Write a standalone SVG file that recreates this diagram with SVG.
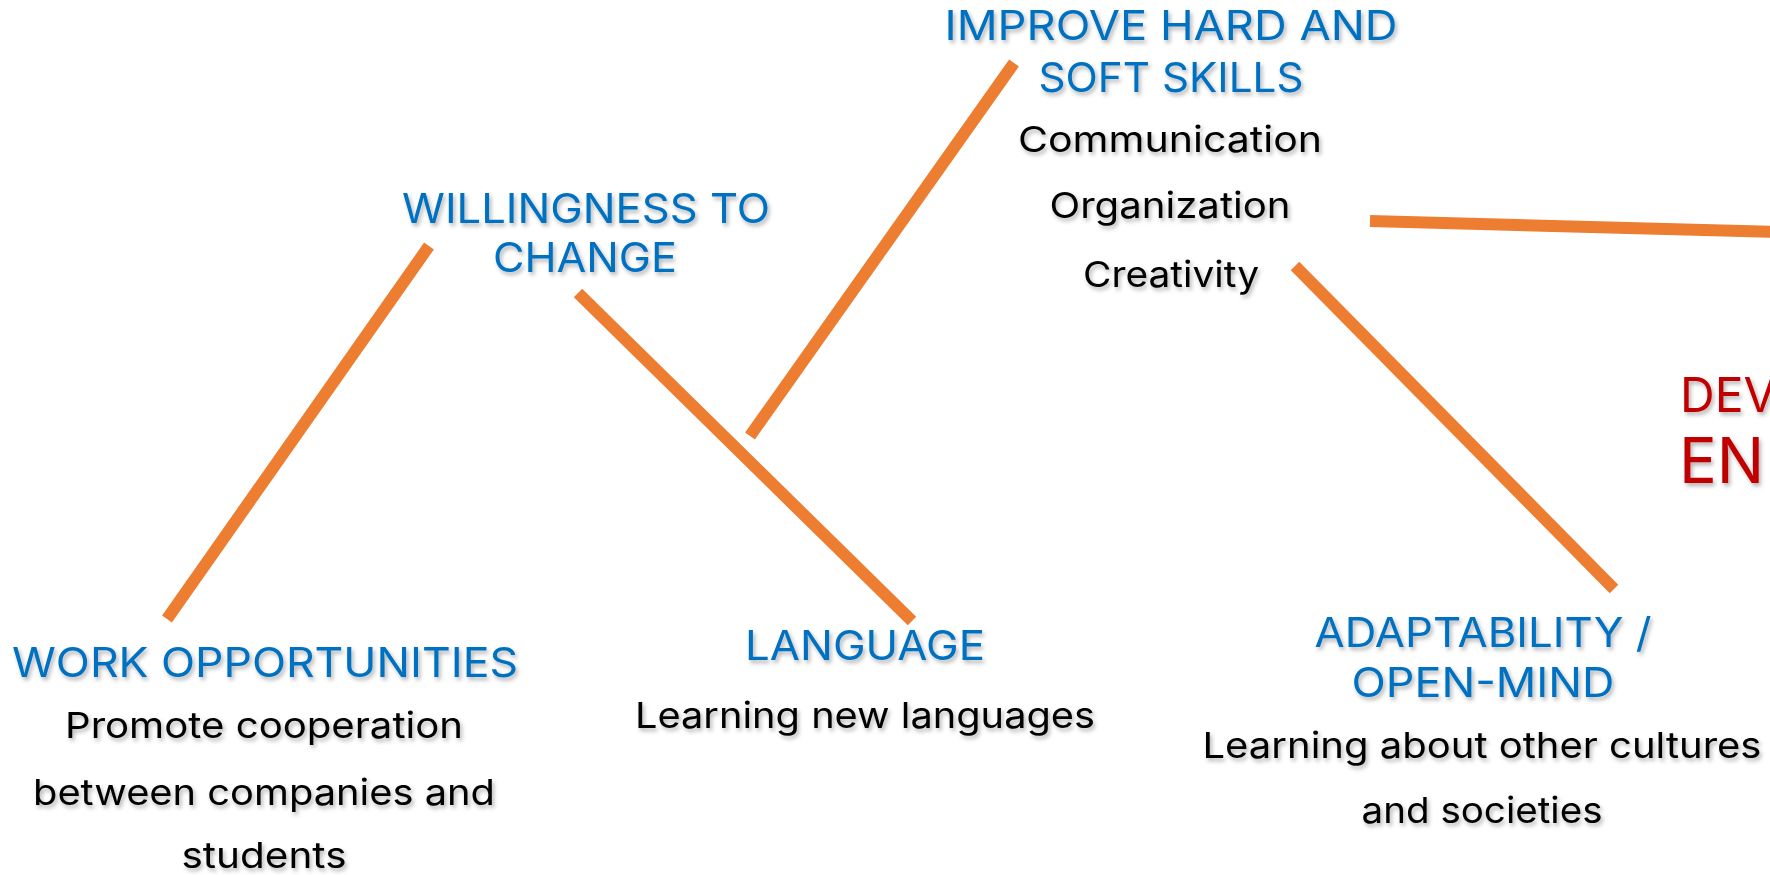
<svg xmlns="http://www.w3.org/2000/svg" width="1770" height="875" viewBox="0 0 1770 875">
<defs>
<filter id="sh" x="-10%" y="-30%" width="120%" height="160%">
<feDropShadow dx="2" dy="3" stdDeviation="2" flood-color="#000" flood-opacity="0.3"/>
</filter>
<style>
text{font-family:Inter,"Open Sans","Liberation Sans",sans-serif;text-anchor:middle;filter:url(#sh)}
.t{fill:#0070C0;font-size:41px}
.b{fill:#000;font-size:36px}
.r{fill:#C00000;text-anchor:start}
.c line{stroke:#ED7D31;stroke-width:12;stroke-linecap:butt}
</style>
</defs>
<rect width="1770" height="875" fill="#fff"/>
<g class="c" id="connectors">
<line x1="429" y1="246" x2="167" y2="619"/>
<line x1="578" y1="293" x2="912" y2="621"/>
<line x1="1014" y1="63" x2="750" y2="436"/>
<line x1="1370" y1="221" x2="1775" y2="232"/>
<line x1="1295" y1="266" x2="1614" y2="589"/>
</g>
<g id="improve">
<text class="t" x="1171" y="40" textLength="453" lengthAdjust="spacingAndGlyphs">IMPROVE HARD AND</text>
<text class="t" x="1171" y="92" textLength="265" lengthAdjust="spacingAndGlyphs">SOFT SKILLS</text>
<text class="b" x="1170" y="152" textLength="304" lengthAdjust="spacingAndGlyphs">Communication</text>
<text class="b" x="1170" y="218" textLength="241" lengthAdjust="spacingAndGlyphs">Organization</text>
<text class="b" x="1171" y="287" textLength="176" lengthAdjust="spacingAndGlyphs">Creativity</text>
</g>
<g id="willingness">
<text class="t" x="586" y="223" textLength="368" lengthAdjust="spacingAndGlyphs">WILLINGNESS TO</text>
<text class="t" x="585" y="272" textLength="184" lengthAdjust="spacingAndGlyphs">CHANGE</text>
</g>
<g id="work">
<text class="t" x="265" y="677" textLength="506" lengthAdjust="spacingAndGlyphs">WORK OPPORTUNITIES</text>
<text class="b" x="264" y="738" textLength="398" lengthAdjust="spacingAndGlyphs">Promote cooperation</text>
<text class="b" x="264" y="805" textLength="462" lengthAdjust="spacingAndGlyphs">between companies and</text>
<text class="b" x="264" y="868" textLength="165" lengthAdjust="spacingAndGlyphs">students</text>
</g>
<g id="language">
<text class="t" x="865" y="660" textLength="240" lengthAdjust="spacingAndGlyphs">LANGUAGE</text>
<text class="b" x="865" y="728" textLength="460" lengthAdjust="spacingAndGlyphs">Learning new languages</text>
</g>
<g id="adaptability">
<text class="t" x="1483" y="647" textLength="337" lengthAdjust="spacingAndGlyphs">ADAPTABILITY /</text>
<text class="t" x="1483" y="697" textLength="263" lengthAdjust="spacingAndGlyphs">OPEN-MIND</text>
<text class="b" x="1482" y="758" textLength="559" lengthAdjust="spacingAndGlyphs">Learning about other cultures</text>
<text class="b" x="1482" y="823" textLength="241" lengthAdjust="spacingAndGlyphs">and societies</text>
</g>
<g id="develop">
<text class="r" x="1680" y="412" font-size="48">DEV</text>
<text class="r" x="1679" y="483" font-size="63">EN</text>
</g>
</svg>
